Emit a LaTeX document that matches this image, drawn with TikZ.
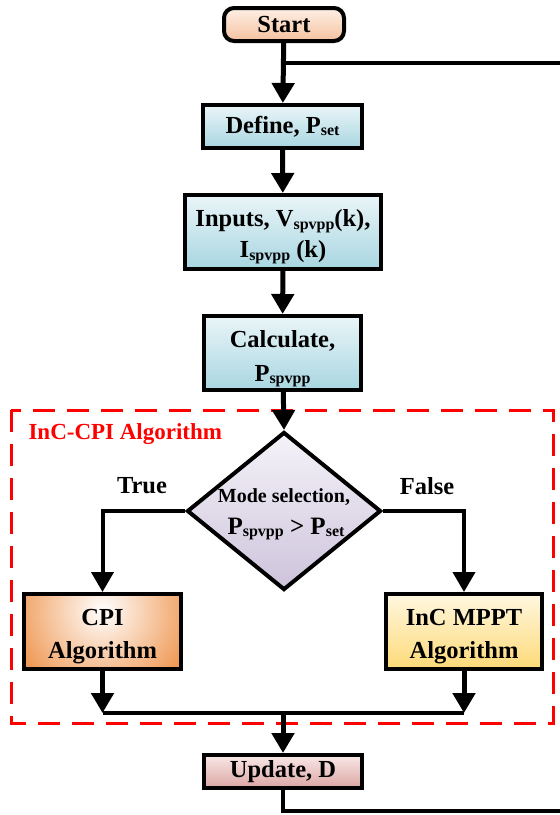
\documentclass[tikz,border=0pt]{standalone}
\usepackage{fontspec}
\setmainfont{Liberation Serif}
\usetikzlibrary{arrows.meta,shapes.geometric,calc}
\definecolor{starttop}{HTML}{FDF0E7}
\definecolor{startbot}{HTML}{F5C19E}
\definecolor{bluetop}{HTML}{EAF5F8}
\definecolor{bluebot}{HTML}{A8D6E1}
\definecolor{diatop}{HTML}{F5F3F9}
\definecolor{diabot}{HTML}{CDC3DB}
\definecolor{cpiorange}{HTML}{EF9650}
\definecolor{inctop}{HTML}{FFF7E0}
\definecolor{incbot}{HTML}{FDDA78}
\definecolor{updtop}{HTML}{F8E8E7}
\definecolor{updbot}{HTML}{DCA6A4}
\definecolor{dashred}{HTML}{FF0000}
\newcommand\mysb[1]{\raisebox{-2.5pt}{\fontsize{16}{16}\selectfont #1}}
\begin{document}
\begin{tikzpicture}[x=1pt,y=-1pt,
  font=\bfseries\fontsize{24.5}{29}\selectfont,
  boxbase/.style={draw=black, line width=4pt, inner sep=0pt, align=center},
  bluebox/.style={boxbase, top color=bluetop, bottom color=bluebot},
  arr/.style={line width=5pt, -{Triangle[width=22pt,length=20pt]}},
  thinline/.style={line width=4pt},
  redbox/.style={draw=dashred, line width=3pt, dash pattern=on 22pt off 12pt},
]
\useasboundingbox (0,0) rectangle (560,815);

% dashed group frame
\draw[redbox] (11,410) rectangle (553,723);
\node[anchor=west, text=dashred, font=\bfseries\fontsize{23}{27}\selectfont] (grp) at (25,434) {InC-CPI Algorithm};

% nodes
\node[boxbase, rounded corners=10pt, top color=starttop, bottom color=startbot,
      minimum width=120pt, minimum height=33pt] (start) at (284,24.5) {Start};
\node[bluebox, minimum width=159pt, minimum height=43pt] (define) at (282.5,126.5) {Define, P\mysb{set}};
\node[bluebox, minimum width=196pt, minimum height=74pt] (inputs) at (283,232)
  {\rule{0pt}{26pt}Inputs, V\mysb{spvpp}(k),\\[2pt] I\mysb{spvpp} (k)};
\node[bluebox, minimum width=157pt, minimum height=74pt] (calc) at (282.5,353)
  {\rule{0pt}{28pt}Calculate,\\[5pt] P\mysb{spvpp}};
\node[diamond, draw=black, line width=4pt, inner sep=0pt, top color=diatop, bottom color=diabot,
      minimum width=194pt, minimum height=158pt] (dec) at (284,511) {};
\node[font=\bfseries\fontsize{20}{24}\selectfont] (mode) at (284,497) {Mode selection,};
\node[font=\bfseries\fontsize{25}{29}\selectfont] (cond) at (286,529) {P\mysb{spvpp} > P\mysb{set}};
\node[boxbase, minimum width=157pt, minimum height=75pt,
      path picture={\shade[inner color=white, outer color=cpiorange]
        ($(path picture bounding box.north)+(0,16)$) circle (95pt);}] (cpi) at (102.5,631.5)
  {\rule{0pt}{27pt}CPI\\[4pt] Algorithm};
\node[boxbase, top color=inctop, bottom color=incbot, minimum width=156pt, minimum height=75pt]
  (inc) at (464,631.5) {\rule{0pt}{27pt}InC MPPT\\[4pt] Algorithm};
\node[boxbase, top color=updtop, bottom color=updbot, minimum width=158pt, minimum height=33pt]
  (update) at (283,771.5) {Update, D};
\node (true) at (142,486) {True};
\node (false) at (427,486) {False};

% junction coordinates
\coordinate (j1) at (start.south |- 0,63);
\coordinate (r1) at (560,63);
\coordinate (ml) at (cpi.south |- 0,713);
\coordinate (mr) at (inc.south |- 0,713);
\coordinate (mc) at (update.north |- 0,713);
\coordinate (r2) at (560,811);

% connectors
\draw[thinline] (j1) -- (r1);
\draw[arr] (start) -- (define);
\draw[arr] (define) -- (inputs);
\draw[arr] (inputs) -- (calc);
\draw[arr] (calc) -- (dec.north);
\draw[thinline, -{Triangle[width=22pt,length=20pt]}] (dec.west) -| (cpi.north);
\draw[thinline, -{Triangle[width=22pt,length=20pt]}] (dec.east) -| (inc.north);
\draw[arr] (cpi) -- (ml);
\draw[arr] (inc) -- (mr);
\draw[thinline] (ml) -- (mr);
\draw[arr] (mc) -- (update);
\draw[thinline] (update.south) |- (r2);
\end{tikzpicture}
\end{document}
